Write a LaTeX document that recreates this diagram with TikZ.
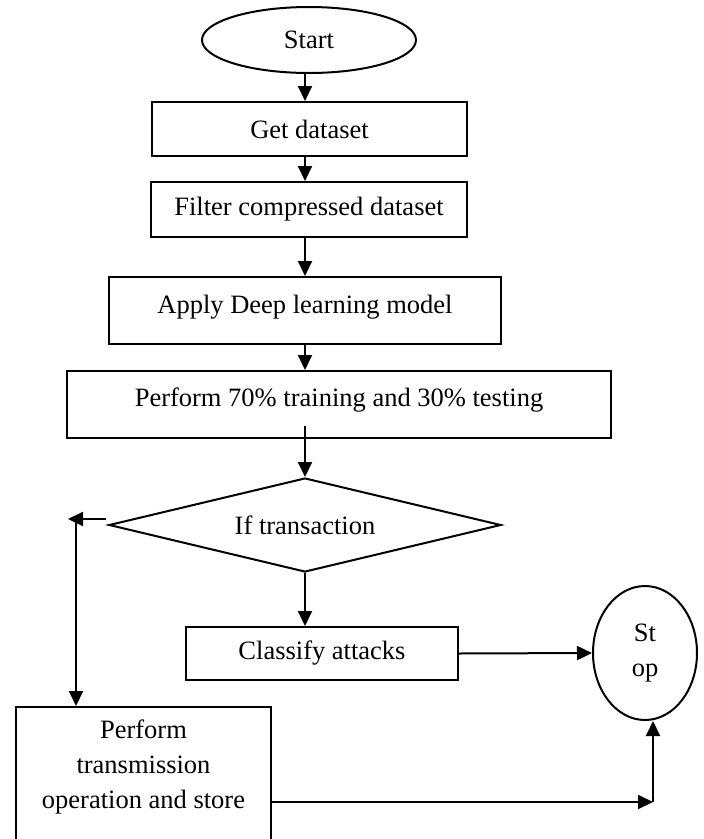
\documentclass[tikz,border=0pt]{standalone}
\usepackage{fontspec}
\setmainfont{Liberation Serif}
\usetikzlibrary{arrows.meta,shapes.geometric,calc}
\begin{document}
\begin{tikzpicture}[x=1pt,y=-1pt,
  every node/.style={font=\fontsize{26.5}{35}\selectfont, inner sep=0pt, align=center},
  box/.style={draw, rectangle, line width=2pt},
  term/.style={draw, ellipse, line width=2pt},
  decide/.style={draw, diamond, aspect=4.17, line width=2pt},
  arr/.style={line width=2pt, -{Triangle[length=15pt,width=14pt]}}]
\useasboundingbox (0,0) rectangle (704,839);
\clip (0,0) rectangle (704,839);

% main column
\node[term, minimum width=214pt, minimum height=66pt] (start) at (309,40) {Start};
\node[box, minimum width=315pt, minimum height=54pt] (get) at (309.5,129) {Get dataset};
\node[box, minimum width=316pt, minimum height=55pt] (filt) at (309,209.5) {Filter compressed dataset};
\node[box, minimum width=392pt, minimum height=67pt, text depth=12pt] (apply) at (305,310.5) {Apply Deep learning model};
\node[box, minimum width=544pt, minimum height=67pt, text depth=14pt] (perf) at (339,404.5) {Perform 70\% training and 30\% testing};
\node[decide, minimum width=392pt, minimum height=94pt] (dia) at (305,525) {If transaction};
\node[box, minimum width=272pt, minimum height=53pt] (cls) at (322,653.5) {Classify attacks};
\node[term, minimum width=104pt, minimum height=134pt] (stop) at (645,653) {St\\op};
\node[box, minimum width=255pt, minimum height=135pt, text depth=20pt] (trans) at (143.5,774.5) {Perform\\transmission\\operation and store};

% connector columns and joints
\coordinate (col) at (305,0);
\coordinate (jl) at (76,519);
\coordinate (tl) at (68,519);
\coordinate (jr) at (653,802);

\draw[arr] (col |- start.south) -- (col |- get.north);
\draw[arr] (col |- get.south) -- (col |- filt.north);
\draw[arr] (col |- filt.south) -- (col |- apply.north);
\draw[arr] (col |- apply.south) -- (col |- perf.north);
\draw[arr] ($(col |- perf.south)+(0,-13)$) -- (col |- dia.north);
\draw[arr] (col |- dia.south) -- (col |- cls.north);
\draw[arr] (cls.east) -- (stop.west);

% left branch of the decision
\draw[arr] ($(dia.west)+(-2,-6)$) -- (tl);
\draw[arr] (jl) -- (jl |- trans.north);

% transmission result to stop
\draw[arr] (trans.east |- jr) -- (jr);
\draw[arr] (jr) -- (jr |- stop.south);
\end{tikzpicture}
\end{document}
